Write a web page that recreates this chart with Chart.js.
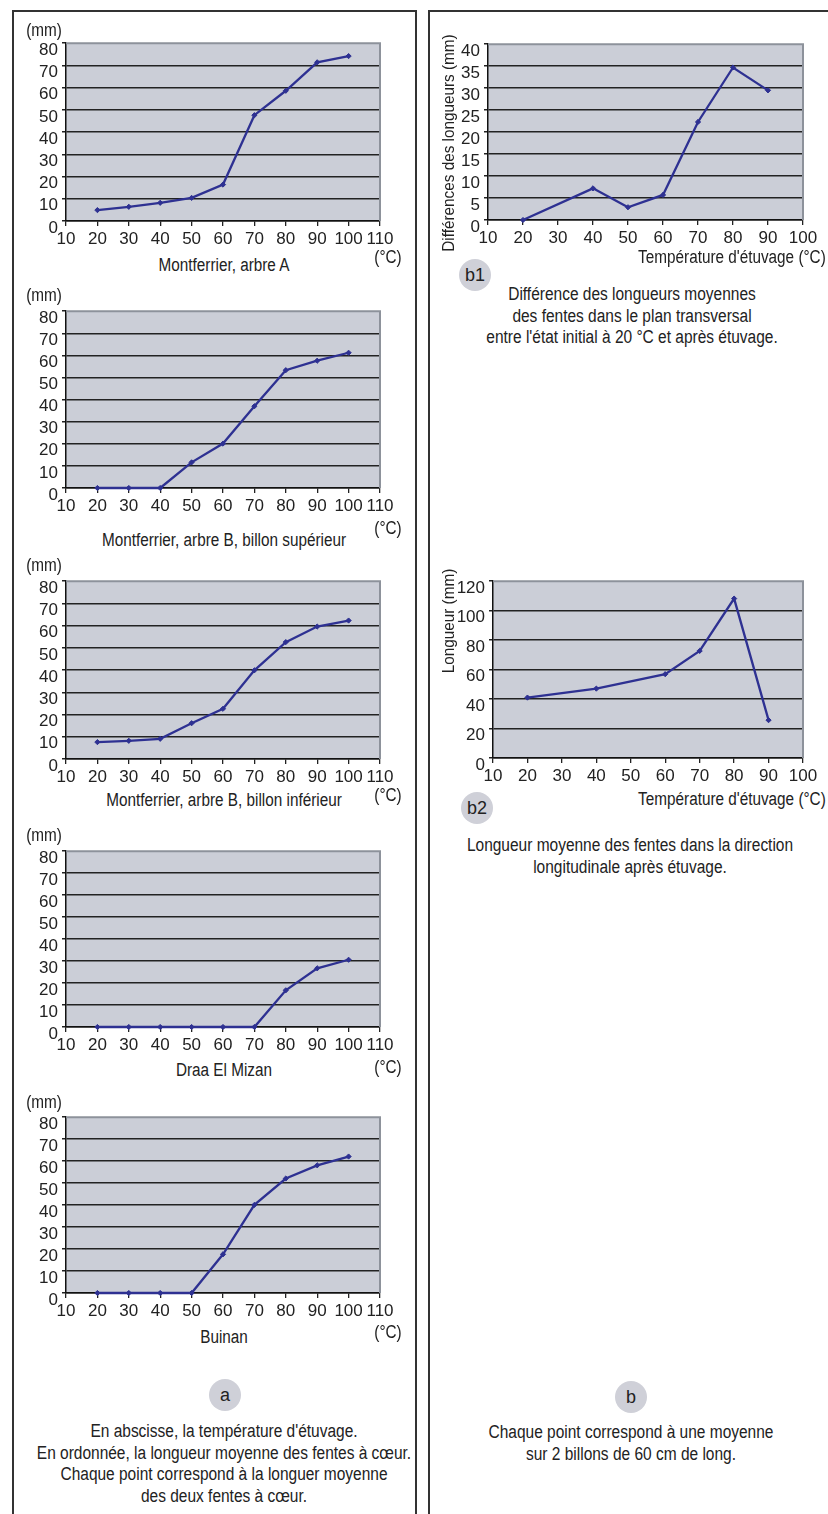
<!DOCTYPE html>
<html>
<head>
<meta charset="utf-8">
<script src="https://cdn.jsdelivr.net/npm/chart.js@4.4.0/dist/chart.umd.min.js"></script>
<style>
  html, body { margin:0; padding:0; background:#fff; }
  body { width:828px; height:1514px; position:relative; overflow:hidden;
         font-family:'Liberation Sans',Arial,sans-serif; color:#222; }
  .frame { position:absolute; border:2px solid #333; border-bottom:none; box-sizing:border-box; }
  canvas { position:absolute; }
  .t { position:absolute; white-space:nowrap; font-size:18px; transform:translate(-50%,-50%) scaleX(0.85); text-align:center; }
  .tr { position:absolute; white-space:nowrap; font-size:18px; transform-origin:right center; transform:translateY(-50%) scaleX(0.85); }
  .cap { position:absolute; font-size:18px; line-height:21.7px; text-align:center; transform:translateX(-50%) scaleX(0.86); white-space:nowrap; }
  .circ { position:absolute; width:32px; height:32px; border-radius:50%; background:#cfd0d8;
          font-size:18px; line-height:32px; text-align:center; transform:translate(-50%,-50%); }
  .rot { position:absolute; white-space:nowrap; font-size:17px; transform:translate(-50%,-50%) rotate(-90deg) scaleX(0.9); }
</style>
</head>
<body>
<div class="frame" style="left:12px;top:10px;width:405px;height:1504px;"></div>
<div class="frame" style="left:428px;top:10px;width:410px;height:1504px;border-right:none;"></div>

<canvas id="cA"></canvas>
<canvas id="cB"></canvas>
<canvas id="cC"></canvas>
<canvas id="cD"></canvas>
<canvas id="cE"></canvas>
<canvas id="cB1"></canvas>
<canvas id="cB2"></canvas>

<div class="t" style="left:44px;top:30px;">(mm)</div>
<div class="t" style="left:224px;top:265px;">Montferrier, arbre A</div>
<div class="t" style="left:388px;top:257px;">(°C)</div>

<div class="t" style="left:44px;top:295px;">(mm)</div>
<div class="t" style="left:224px;top:540px;">Montferrier, arbre B, billon supérieur</div>
<div class="t" style="left:388px;top:528px;">(°C)</div>

<div class="t" style="left:44px;top:565px;">(mm)</div>
<div class="t" style="left:224px;top:800px;">Montferrier, arbre B, billon inférieur</div>
<div class="t" style="left:388px;top:795px;">(°C)</div>

<div class="t" style="left:44px;top:835px;">(mm)</div>
<div class="t" style="left:224px;top:1070px;">Draa El Mizan</div>
<div class="t" style="left:388px;top:1067px;">(°C)</div>

<div class="t" style="left:44px;top:1102px;">(mm)</div>
<div class="t" style="left:224px;top:1337px;">Buinan</div>
<div class="t" style="left:388px;top:1332px;">(°C)</div>

<div class="circ" style="left:225px;top:1395px;">a</div>
<div class="cap" style="left:224px;top:1421px;">En abscisse, la température d'étuvage.<br>En ordonnée, la longueur moyenne des fentes à cœur.<br>Chaque point correspond à la longuer moyenne<br>des deux fentes à cœur.</div>

<div class="rot" style="left:449px;top:143px;">Différences des longueurs (mm)</div>
<div class="tr" style="right:2px;top:257px;">Température d'étuvage (°C)</div>
<div class="circ" style="left:475px;top:275px;">b1</div>
<div class="cap" style="left:632px;top:284px;">Différence des longueurs moyennes<br>des fentes dans le plan transversal<br>entre l'état initial à 20 °C et après étuvage.</div>

<div class="rot" style="left:449px;top:621px;">Longueur (mm)</div>
<div class="tr" style="right:2px;top:799px;">Température d'étuvage (°C)</div>
<div class="circ" style="left:477px;top:808px;">b2</div>
<div class="cap" style="left:630px;top:835px;">Longueur moyenne des fentes dans la direction<br>longitudinale après étuvage.</div>

<div class="circ" style="left:631px;top:1397px;">b</div>
<div class="cap" style="left:631px;top:1422px;">Chaque point correspond à une moyenne<br>sur 2 billons de 60 cm de long.</div>

<script>
// temperatures (°C)
const tempsA = [20, 30, 40, 50, 60, 70, 80, 90, 100];
const tempsB1 = [20, 40, 50, 60, 70, 80, 90];
const tempsB2 = [20, 40, 60, 70, 80, 90];

// mean crack length at heart (mm)
const arbreA = [4.9, 6.4, 8.2, 10.4, 16.4, 47.6, 58.6, 71.4, 74.2];
const arbreBsup = [0, 0, 0, 11.6, 20.1, 37.0, 53.3, 57.6, 61.2];
const arbreBinf = [7.6, 8.2, 9.1, 16.1, 22.6, 39.9, 52.6, 59.6, 62.3];
const draaElMizan = [0, 0, 0, 0, 0, 0, 16.7, 26.7, 30.6];
const buinan = [0, 0, 0, 0, 17.6, 40.1, 52.1, 58.1, 62.1];

// b1: difference of transverse lengths (mm), b2: longitudinal length (mm)
const diffTransv = [0, 7.2, 2.9, 5.7, 22.3, 34.7, 29.5];
const longLongit = [41.0, 47.1, 56.9, 72.7, 108.2, 25.7];

Chart.defaults.font.family = "'Liberation Sans',Arial,sans-serif";
Chart.defaults.font.size = 17;
Chart.defaults.color = '#222';

const plotFrame = {
  id: 'plotFrame',
  beforeDraw(chart) {
    const a = chart.chartArea, c = chart.ctx;
    c.save();
    c.fillStyle = '#cbced7';
    c.fillRect(a.left, a.top, a.right - a.left, a.bottom - a.top);
    c.restore();
  },
  afterDraw(chart) {
    const a = chart.chartArea, c = chart.ctx;
    c.save();
    c.strokeStyle = '#8d929b';
    c.lineWidth = 2;
    c.beginPath();
    c.moveTo(a.left, a.top);
    c.lineTo(a.right, a.top);
    c.lineTo(a.right, a.bottom);
    c.stroke();
    c.restore();
  }
};

const YW = 56, XH = 30, PT = 12, PR = 30;

function makeChart(id, box, xs, ys, xMax, yMax, yStep) {
  const cv = document.getElementById(id);
  const w = (box.r - box.l) + YW + PR;
  const h = (box.b - box.t) + PT + XH;
  cv.style.left = (box.l - YW) + 'px';
  cv.style.top = (box.t - PT) + 'px';
  cv.style.width = w + 'px';
  cv.style.height = h + 'px';
  cv.width = w; cv.height = h;
  new Chart(cv.getContext('2d'), {
    type: 'line',
    data: { datasets: [{
      data: xs.map((x, i) => ({ x: x, y: ys[i] })),
      borderColor: '#2e3192', backgroundColor: '#2e3192',
      borderWidth: 2.3, pointStyle: 'rectRot', pointRadius: 2.6, pointBorderWidth: 1,
      tension: 0, clip: false
    }] },
    options: {
      responsive: false, animation: false, events: [],
      layout: { padding: { top: PT, right: PR, left: 0, bottom: 0 } },
      plugins: { legend: { display: false }, tooltip: { enabled: false } },
      scales: {
        x: {
          type: 'linear', min: 10, max: xMax,
          afterFit: s => { s.height = XH; },
          ticks: { stepSize: 10, padding: 3, maxRotation: 0, autoSkip: false },
          grid: { drawOnChartArea: false, drawTicks: true, tickLength: 5, color: '#222', lineWidth: 1.3 },
          border: { color: '#111', width: 1.5 }
        },
        y: {
          min: 0, max: yMax,
          afterFit: s => { s.width = YW; },
          ticks: { stepSize: yStep, padding: 4, labelOffset: 7, autoSkip: false },
          grid: {
            color: c => (c.tick && c.tick.value === yMax) ? 'rgba(0,0,0,0)' : '#222',
            tickColor: '#222', lineWidth: 1.5, tickLength: 4
          },
          border: { color: '#111', width: 1.5 }
        }
      }
    },
    plugins: [plotFrame]
  });
}

makeChart('cA', { l: 66, r: 380, t: 41, b: 221 }, tempsA, arbreA, 110, 80, 10);
makeChart('cB', { l: 66, r: 380, t: 309, b: 488 }, tempsA, arbreBsup, 110, 80, 10);
makeChart('cC', { l: 66, r: 380, t: 579, b: 759 }, tempsA, arbreBinf, 110, 80, 10);
makeChart('cD', { l: 66, r: 380, t: 849, b: 1027 }, tempsA, draaElMizan, 110, 80, 10);
makeChart('cE', { l: 66, r: 380, t: 1115, b: 1293 }, tempsA, buinan, 110, 80, 10);
makeChart('cB1', { l: 488, r: 803, t: 42, b: 220 }, tempsB1, diffTransv, 100, 40, 5);
makeChart('cB2', { l: 493, r: 803, t: 579, b: 758 }, tempsB2, longLongit, 100, 120, 20);
</script>
</body>
</html>
